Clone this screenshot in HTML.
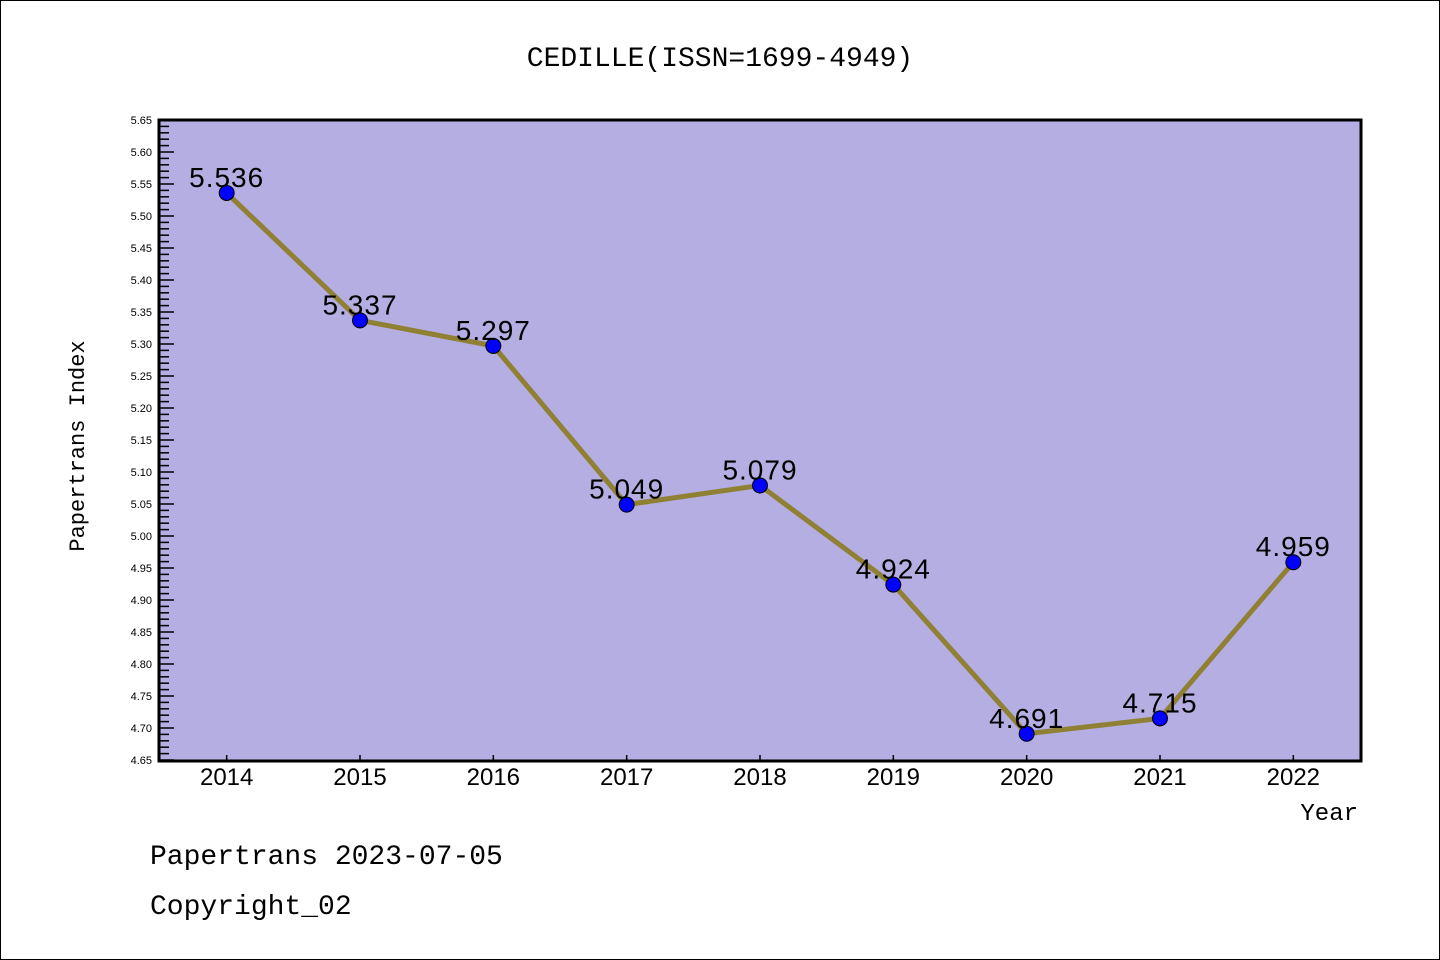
<!DOCTYPE html>
<html><head><meta charset="utf-8"><style>
body{margin:0;background:#fff;}
svg{display:block;font-family:"Liberation Sans","DejaVu Sans",sans-serif;}
</style></head><body>
<svg width="1440" height="960">
<rect x="0.5" y="0.5" width="1439" height="959" fill="#fff" stroke="#000"/>
<text x="720" y="66" text-anchor="middle" font-size="28" font-family="Liberation Mono, monospace">CEDILLE(ISSN=1699-4949)</text>
<rect x="159" y="120" width="1202" height="641" fill="#b5aee2"/>
<g id="yt"></g>
<g id="xt"></g>
<g id="series"></g>
<rect x="159" y="120" width="1202" height="641" fill="none" stroke="#000" stroke-width="3"/>
<text transform="translate(84,446) rotate(-90)" text-anchor="middle" font-size="22" font-family="Liberation Mono, monospace">Papertrans Index</text>
<text x="1358" y="820" text-anchor="end" font-size="24" font-family="Liberation Mono, monospace">Year</text>
<text x="150" y="864" font-size="28" font-family="Liberation Mono, monospace">Papertrans 2023-07-05</text>
<text x="150" y="914" font-size="28" font-family="Liberation Mono, monospace">Copyright_02</text>
</svg>
<script>
const years=[2014,2015,2016,2017,2018,2019,2020,2021,2022];
const values=[5.536,5.337,5.297,5.049,5.079,4.924,4.691,4.715,4.959];
const labels=["5.536","5.337","5.297","5.049","5.079","4.924","4.691","4.715","4.959"];
const yMin=4.65,yMax=5.65;
const NS="http://www.w3.org/2000/svg";
const X0=160,X1=1360,Y0=760,Y1=120;
function xs(v){return X0+(v-2013.5)/(9)*(X1-X0);}
function ys(v){return Y0-(v-yMin)/(yMax-yMin)*(Y0-Y1);}
function mk(t,a,p){const e=document.createElementNS(NS,t);for(const k in a)e.setAttribute(k,a[k]);p.appendChild(e);return e;}
const yt=document.getElementById('yt');
for(let i=0;i<=100;i++){const v=yMin+i*0.01;const y=ys(v);const major=i%5===0;
 const l=mk('line',{x1:160,x2:160+(major?14:9),y1:y,y2:y,stroke:'#000','stroke-width':1.5},yt);
 
 if(major){const t=mk('text',{x:152,y:y+4,'text-anchor':'end','font-size':11},yt);t.textContent=v.toFixed(2);
 }}
const xt=document.getElementById('xt');
years.forEach(yr=>{const x=xs(yr);
 const l=mk('line',{x1:x,x2:x,y1:760,y2:755,stroke:'#000','stroke-width':1.5},xt);
 
 const t=mk('text',{x:x,y:785,'text-anchor':'middle','font-size':24},xt);t.textContent=yr;
 });
const s=document.getElementById('series');
const pl=mk('polyline',{points:years.map((y,i)=>xs(y)+','+ys(values[i])).join(' '),fill:'none',stroke:'#8f8034','stroke-width':5},s);

years.forEach((yr,i)=>{const x=xs(yr),y=ys(values[i]);
 const c=mk('circle',{cx:x,cy:y,r:7.5,fill:'#0000ff',stroke:'#000','stroke-width':1},s);
 
 const t=mk('text',{x:x,y:y-6,'text-anchor':'middle','font-size':28,'letter-spacing':'1'},s);t.textContent=labels[i];
 });
</script>
</body></html>
